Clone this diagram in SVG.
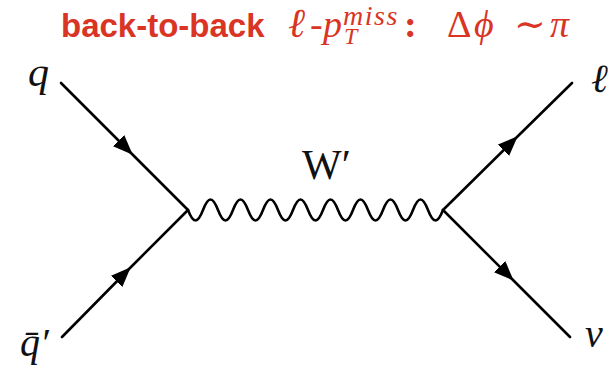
<svg xmlns="http://www.w3.org/2000/svg" width="616" height="367" viewBox="0 0 616 367">
<style>
.f{fill:none;stroke:#000;stroke-width:2.6;stroke-linecap:round;stroke-linejoin:round}
.w{fill:none;stroke:#000;stroke-width:2.6}
.lab{font-family:"Liberation Serif","DejaVu Serif",serif;font-style:italic;fill:#111}
.up{font-family:"Liberation Serif","DejaVu Serif",serif;fill:#111}
.t{fill:#d93424;font-family:"Liberation Serif","DejaVu Serif",serif}
.ts{font-family:"Liberation Sans",Arial,sans-serif;font-weight:bold;font-style:normal}
.i{font-style:italic}
</style>
<defs>
<marker id="arr" markerUnits="userSpaceOnUse" viewBox="0 0 20 16" markerWidth="20" markerHeight="16" refX="19" refY="8" orient="auto">
<path d="M0,0 L20,8 L0,16 z" fill="#000"/>
</marker>
</defs>
<rect width="616" height="367" fill="#fff"/>
<g id="title">
<text class="t" y="37" font-size="38"><tspan class="ts" x="61" font-size="33">back-to-back</tspan><tspan class="i" x="288" font-size="41">ℓ</tspan><tspan x="310">-</tspan><tspan class="i" x="323">p</tspan><tspan class="i" x="344" dy="7" font-size="24">T</tspan><tspan class="i" x="343" dy="-19" font-size="28" letter-spacing="1.5">miss</tspan><tspan x="404" dy="12" font-weight="bold">:</tspan><tspan x="447">Δ</tspan><tspan class="i" x="474">ϕ</tspan><tspan x="514">∼</tspan><tspan class="i" x="550">π</tspan></text>
</g>
<g id="connectors">
<path id="line-q" class="f" d="M61,83 L132,154 L188,210" marker-mid="url(#arr)"/>
<path id="line-qbar" class="f" d="M62,337 L130,268 L188,210" marker-mid="url(#arr)"/>
<path id="line-l" class="f" d="M443,210 L517,137 L572,83" marker-mid="url(#arr)"/>
<path id="line-nu" class="f" d="M443,210 L513,280 L570,337" marker-mid="url(#arr)"/>
<path id="wave-W" class="w" d="M188,210 c5.4,14 9.6,14 15,0 c5.4,-14 9.6,-14 15,0 c5.4,14 9.6,14 15,0 c5.4,-14 9.6,-14 15,0 c5.4,14 9.6,14 15,0 c5.4,-14 9.6,-14 15,0 c5.4,14 9.6,14 15,0 c5.4,-14 9.6,-14 15,0 c5.4,14 9.6,14 15,0 c5.4,-14 9.6,-14 15,0 c5.4,14 9.6,14 15,0 c5.4,-14 9.6,-14 15,0 c5.4,14 9.6,14 15,0 c5.4,-14 9.6,-14 15,0 c5.4,14 9.6,14 15,0 c5.4,-14 9.6,-14 15,0 c5.4,14 9.6,14 15,0"/>
</g>
<g id="node-q"><text class="lab" x="28" y="86" font-size="42">q</text></g>
<g id="node-qbar"><text class="lab" x="20" y="356" font-size="40">q̄′</text></g>
<g id="node-l"><text class="lab" x="591" y="92" font-size="40">ℓ</text></g>
<g id="node-nu"><text class="lab" x="585" y="347" font-size="40">ν</text></g>
<g id="node-W"><text class="up" x="302" y="179" font-size="42">W′</text></g>
</svg>
